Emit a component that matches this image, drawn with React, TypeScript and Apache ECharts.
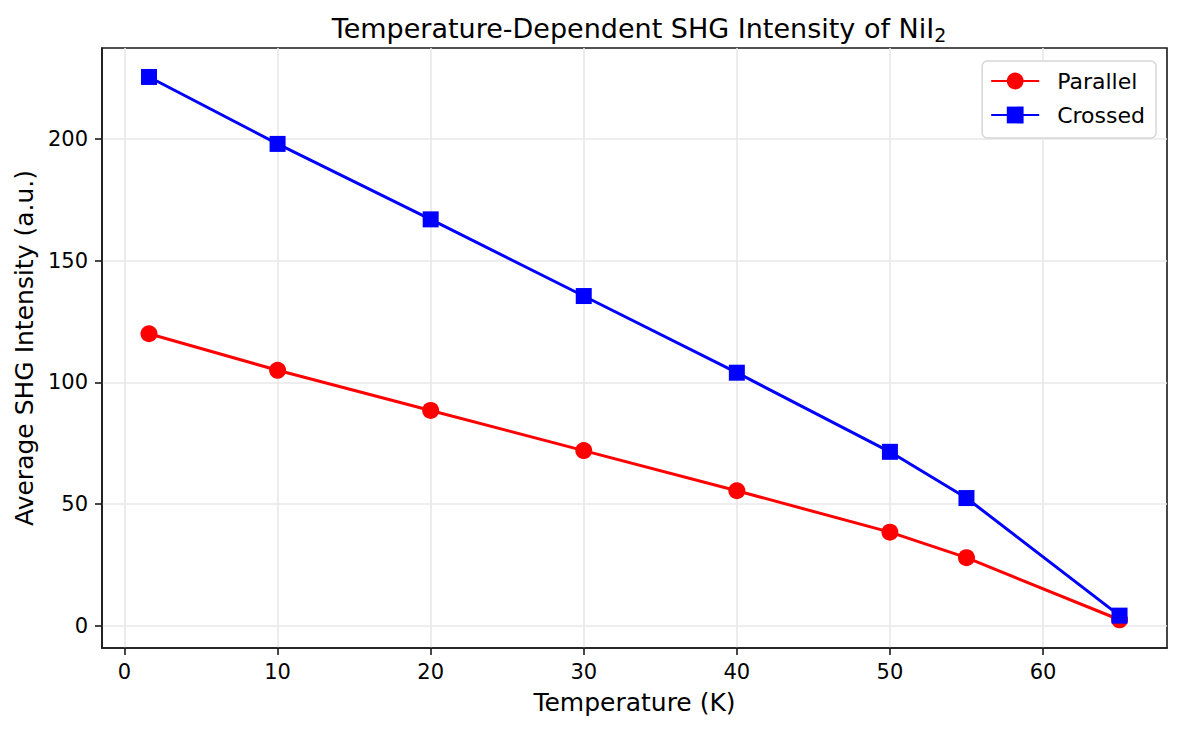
import { useEffect, useRef } from "react";
import * as echarts from "echarts";

const temperatures = [1.6, 10, 20, 30, 40, 50, 55, 65];
const parallel = [120, 105, 88.5, 72, 55.5, 38.5, 28, 2.5];
const crossed = [225.5, 198, 167, 135.5, 104, 71.5, 52.5, 4.2];
const xTicks = [0, 10, 20, 30, 40, 50, 60];
const yTicks = [0, 50, 100, 150, 200];

const FONT = "DejaVu Sans";

const App: React.FC = () => {
	const chartRef = useRef<HTMLDivElement>(null);

	useEffect(() => {
		if (!chartRef.current) return;
		document.body.style.margin = "0";
		const chart = echarts.init(chartRef.current, undefined, { renderer: "svg" });

		const toPairs = (ys: number[]) => temperatures.map((t, i) => [t, ys[i]]);

		const option = {
			animation: false,
			backgroundColor: "#ffffff",
			textStyle: { fontFamily: FONT },
			title: {
				text: "Temperature-Dependent SHG Intensity of NiI{sub|2}",
				left: 634,
				textAlign: "center",
				top: 8,
				textStyle: {
					fontFamily: FONT,
					fontSize: 27,
					fontWeight: "normal",
					color: "#000",
					rich: {
						sub: { fontFamily: FONT, fontSize: 19, verticalAlign: "bottom", padding: [12, 0, 0, 0], color: "#000" },
					},
				},
			},
			legend: {
				orient: "vertical",
				right: 26,
				top: 61,
				padding: [9, 11, 12, 8],
				itemWidth: 48,
				itemHeight: 21,
				itemGap: 12,
				backgroundColor: "#ffffff",
				borderColor: "#d6d6d6",
				borderWidth: 1.5,
				borderRadius: 5,
				textStyle: { fontFamily: FONT, fontSize: 22, color: "#000", padding: [0, 0, 0, 13] },
				data: ["Parallel", "Crossed"],
			},
			grid: {
				left: 102,
				right: 15,
				top: 48,
				bottom: 81,
				show: true,
				borderColor: "#1a1a1a",
				borderWidth: 1.6,
				backgroundColor: "transparent",
			},
			xAxis: {
				type: "value",
				min: -1.47,
				max: 68.1,
				name: "Temperature (K)",
				nameLocation: "middle",
				nameGap: 42,
				nameTextStyle: { fontFamily: FONT, fontSize: 25, color: "#000" },
				axisLine: { show: true, onZero: false, lineStyle: { color: "#1a1a1a", width: 1.6 } },
				axisTick: { show: true, length: 7, customValues: xTicks, lineStyle: { color: "#1a1a1a", width: 1.6 } },
				axisLabel: { customValues: xTicks, fontFamily: FONT, fontSize: 21, color: "#000", margin: 13 },
				splitLine: { show: true, lineStyle: { color: "#e8e8e8", width: 1.6 } },
			},
			yAxis: {
				type: "value",
				min: -9.1,
				max: 237.4,
				name: "Average SHG Intensity (a.u.)",
				nameLocation: "middle",
				nameGap: 65,
				nameTextStyle: { fontFamily: FONT, fontSize: 25, color: "#000" },
				axisLine: { show: true, onZero: false, lineStyle: { color: "#1a1a1a", width: 1.6 } },
				axisTick: { show: true, length: 7, customValues: yTicks, lineStyle: { color: "#1a1a1a", width: 1.6 } },
				axisLabel: { customValues: yTicks, fontFamily: FONT, fontSize: 21, color: "#000", margin: 14 },
				splitLine: { show: true, lineStyle: { color: "#e8e8e8", width: 1.6 } },
			},
			series: [
				{
					name: "Parallel",
					type: "line",
					data: toPairs(parallel),
					symbol: "circle",
					symbolSize: 17,
					lineStyle: { color: "#ff0000", width: 3 },
					itemStyle: { color: "#ff0000" },
				},
				{
					name: "Crossed",
					type: "line",
					data: toPairs(crossed),
					symbol: "rect",
					symbolSize: 16,
					lineStyle: { color: "#0000ff", width: 3 },
					itemStyle: { color: "#0000ff" },
				},
			],
		};

		chart.setOption(option);

		return () => {
			chart.dispose();
		};
	}, []);

	return <div ref={chartRef} style={{ width: "1182px", height: "729px" }} />;
};

export default App;
